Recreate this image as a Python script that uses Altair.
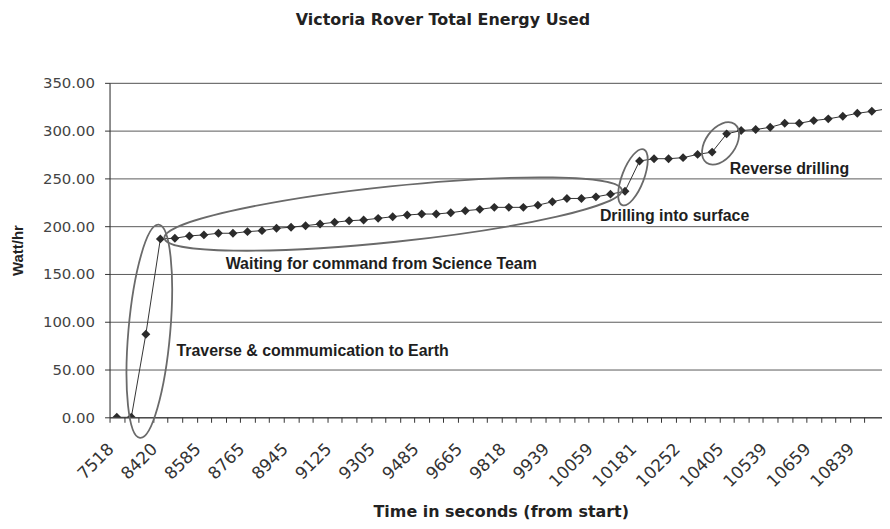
import altair as alt
import pandas as pd

# ---- data ----
energy = [0.0, 0.0, 86.9, 186.7, 187.4, 189.8, 190.9, 192.6, 192.6, 194.3,
          195.3, 197.8, 198.9, 200.5, 202.3, 204.1, 205.7, 206.5, 208.2, 209.9,
          211.7, 212.7, 212.7, 214.1, 216.2, 217.6, 219.7, 219.7, 219.7, 222.0,
          225.5, 229.0, 229.0, 230.7, 233.5, 236.6, 268.2, 270.6, 270.6, 271.7,
          275.1, 277.5, 296.6, 300.1, 301.1, 303.5, 307.7, 307.7, 310.5, 312.3,
          315.0, 318.1, 320.2, 322.7]
point_index = list(range(len(energy)))
tick_labels = ["7518", "8420", "8585", "8765", "8945", "9125", "9305", "9485",
               "9665", "9818", "9939", "10059", "10181", "10252", "10405",
               "10539", "10659", "10839"]
label_step = 3

note_text = ["Traverse & commumication to Earth",
             "Waiting for command from Science Team",
             "Drilling into surface",
             "Reverse drilling"]
note_x = [4.11, 7.50, 33.27, 42.22]
note_y = [69.2, 160.7, 210.3, 260.2]

ellipse_x = [2.24, 19.03, 35.55, 41.58]
ellipse_y = [90.0, 212.7, 251.2, 286.6]

# ---- chart ----
W, H = 776, 336
X_MIN, X_MAX = -0.5, 52.7
cat_px = W / (X_MAX - X_MIN)          # width of one category in px

df = pd.DataFrame({"idx": point_index, "energy": energy})
notes = pd.DataFrame({"x": note_x, "y": note_y, "t": note_text})

label_pos = [i * label_step for i in range(len(tick_labels))]
label_expr = ""
for pos, lab in zip(label_pos, tick_labels):
    label_expr += f"datum.value === {pos} ? '{lab}' : "
label_expr += "''"

xscale = alt.Scale(domain=[X_MIN, X_MAX], nice=False, zero=False)
yscale = alt.Scale(domain=[0, 350], nice=False)

# one tick per category, shifted half a category left (tick marks between
# categories), labels shifted back to the category centre
xaxis = alt.Axis(
    values=point_index, tickCount=200, labelExpr=label_expr,
    tickOffset=-cat_px / 2, labelOffset=cat_px / 2 - 6,
    tickSize=5, tickColor="#333333", tickWidth=1,
    domainColor="#333333", grid=False,
    labelAngle=315, labelAlign="right", labelBaseline="middle",
    labelPadding=24, labelOverlap=False, labelFlush=False,
    labelFont="DejaVu Sans", labelFontSize=17, labelColor="#333333",
    title="Time in seconds (from start)",
    titleFont="DejaVu Sans", titleFontSize=16, titleFontWeight="bold",
    titleColor="#222222", titleX=393, titleY=95, titleBaseline="middle",
    titleAlign="center",
)
yaxis = alt.Axis(
    values=[0, 50, 100, 150, 200, 250, 300, 350], format=".2f",
    labelFont="DejaVu Sans", labelFontSize=15, labelColor="#444444",
    labelPadding=10, tickSize=5, tickColor="#333333", domainColor="#333333",
    grid=True, gridColor="#5a5a5a", gridWidth=1,
    title="Watt/hr", titleFont="Liberation Sans", titleFontSize=15,
    titleFontWeight="bold", titleColor="#222222",
    titleAngle=270, titleX=-92, titleY=H / 2, titleBaseline="middle",
    titleAlign="center",
)

base = alt.Chart(df).encode(
    x=alt.X("idx:Q", scale=xscale, axis=xaxis),
    y=alt.Y("energy:Q", scale=yscale, axis=yaxis),
)
line = base.mark_line(color="#333333", strokeWidth=1, clip=True)
pts = base.mark_point(shape="diamond", filled=True, color="#2b2b2b",
                      size=80, opacity=1, clip=True)

text = alt.Chart(notes).mark_text(
    align="left", baseline="middle", font="Liberation Sans", fontSize=16,
    fontWeight="bold", color="#1e1e1e"
).encode(
    x=alt.X("x:Q", scale=xscale),
    y=alt.Y("y:Q", scale=yscale),
    text="t:N",
)

# ellipse outlines (semi-axes in px, rotation in degrees clockwise)
ellipse_style = [(21, 107.5, 5), (231, 28, 354), (11, 30, 21), (15, 24, 36)]
ell_layers = []
for ex, ey, (a, b, ang) in zip(ellipse_x, ellipse_y, ellipse_style):
    R = max(a, b)
    A, B = a / R, b / R
    path = (f"M {-A:.4f} 0 A {A:.4f} {B:.4f} 0 1 0 {A:.4f} 0 "
            f"A {A:.4f} {B:.4f} 0 1 0 {-A:.4f} 0 Z")
    ell_layers.append(
        alt.Chart(pd.DataFrame({"x": [ex], "y": [ey]})).mark_point(
            shape=path, size=4 * R * R, angle=ang, filled=False,
            stroke="#6a6a6a", strokeWidth=1.8, opacity=1
        ).encode(
            x=alt.X("x:Q", scale=xscale),
            y=alt.Y("y:Q", scale=yscale),
        )
    )

chart = alt.layer(line, pts, *ell_layers, text).properties(
    width=W, height=H,
    title=alt.TitleParams(
        "Victoria Rover Total Energy Used", anchor="middle", dx=-53,
        offset=48, font="DejaVu Sans", fontSize=16, fontWeight="bold",
        color="#222222"),
    autosize=alt.AutoSizeParams(type="none"),
    padding={"left": 102, "top": 74, "right": 0, "bottom": 105},
).configure_view(stroke=None).configure(background="white").configure_axis(
    labelOverlap=False, labelFlush=False
).configure_axisX(labelOverlap=False, labelFlush=False, tickCount=200)

chart.save("out.html", embed_options={"renderer": "svg", "actions": False})
